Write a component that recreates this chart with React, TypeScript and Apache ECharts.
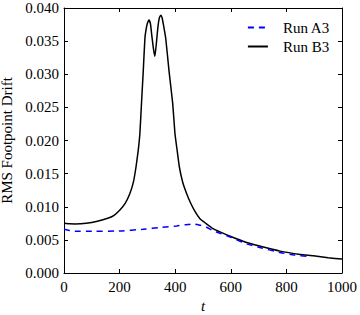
import React, { useEffect, useRef } from "react";
import * as echarts from "echarts";

const tB3 = [0, 20, 40, 80, 120, 160, 180, 201, 220, 237, 250, 259, 267, 273, 279, 285, 291, 295, 300, 306, 311, 316, 322, 327, 333, 338, 343, 348, 353, 358, 366, 378, 391, 399, 407, 415, 427, 441, 455, 471, 489, 510, 536, 561, 600, 657, 700, 777, 850, 897, 950, 1000];
const vB3 = [0.0075, 0.00742, 0.0074, 0.0075, 0.0078, 0.0083, 0.0087, 0.0095, 0.0105, 0.012, 0.0138, 0.016, 0.0185, 0.0211, 0.0258, 0.0304, 0.0354, 0.0367, 0.0377, 0.0382, 0.0376, 0.0358, 0.0338, 0.0327, 0.035, 0.0372, 0.0385, 0.0389, 0.0385, 0.0374, 0.0354, 0.0304, 0.0256, 0.0211, 0.0185, 0.016, 0.0137, 0.012, 0.0106, 0.0093, 0.0082, 0.0075, 0.0067, 0.0062, 0.0055, 0.0046, 0.0041, 0.0033, 0.0028, 0.0026, 0.0023, 0.0021];

const tA3 = [0, 20, 40, 100, 200, 284, 350, 405, 440, 465, 490, 513, 536, 561, 600, 657, 700, 777, 830, 880];
const vA3 = [0.0066, 0.0064, 0.0063, 0.0063, 0.00635, 0.0066, 0.0069, 0.0071, 0.0073, 0.0074, 0.0072, 0.0069, 0.0064, 0.006, 0.0054, 0.0044, 0.0039, 0.0031, 0.0027, 0.0025];

const seriesNames = ["Run A3", "Run B3"];
const FONT = "'Liberation Serif', serif";

export default function App() {
  const ref = useRef<HTMLDivElement>(null);
  useEffect(() => {
    if (!ref.current) return;
    const chart = echarts.init(ref.current, null, { renderer: "svg" });
    const axisCommon = {
      type: "value" as const,
      axisLine: { show: true, onZero: false, lineStyle: { color: "#000", width: 1 } },
      axisTick: { show: true, inside: true, length: 4, lineStyle: { color: "#000" } },
      splitLine: { show: false },
    };
    chart.setOption({
      animation: false,
      backgroundColor: "#fff",
      grid: { left: 64, right: 18, top: 8, bottom: 42, outerBoundsMode: "none", containLabel: false },
      legend: {
        orient: "vertical",
        right: 25,
        top: 15,
        itemWidth: 20,
        itemHeight: 14,
        itemGap: 4,
        data: seriesNames,
        itemStyle: { opacity: 0 },
        textStyle: { fontFamily: FONT, fontSize: 15, color: "#000", padding: [0, 0, 0, 10] },
      },
      xAxis: [
        {
          ...axisCommon,
          min: 0,
          max: 1000,
          interval: 200,
          position: "bottom",
          name: "t",
          nameLocation: "middle",
          nameGap: 22,
          nameTextStyle: { fontFamily: FONT, fontSize: 15, fontStyle: "italic", color: "#000" },
          axisLabel: { fontFamily: FONT, fontSize: 15, color: "#000", margin: 6, formatter: (v: number) => String(v) },
        },
        {
          ...axisCommon,
          min: 0,
          max: 1000,
          interval: 200,
          position: "top",
          axisLabel: { show: false },
        },
      ],
      yAxis: [
        {
          ...axisCommon,
          min: 0,
          max: 0.04,
          interval: 0.005,
          position: "left",
          name: "RMS Footpoint Drift",
          nameLocation: "middle",
          nameGap: 49,
          nameTextStyle: { fontFamily: FONT, fontSize: 15, color: "#000" },
          axisLabel: {
            fontFamily: FONT,
            fontSize: 15,
            color: "#000",
            margin: 5,
            formatter: (v: number) => v.toFixed(3),
          },
        },
        {
          ...axisCommon,
          min: 0,
          max: 0.04,
          interval: 0.005,
          position: "right",
          axisLabel: { show: false },
        },
      ],
      series: [
        {
          name: seriesNames[0],
          type: "line",
          data: tA3.map((t, i) => [t, vA3[i]]),
          showSymbol: false,
          symbol: "none",
          smooth: 0.3,
          lineStyle: { color: "#0000ff", width: 1.5, type: [6, 5] },
          itemStyle: { color: "#0000ff" },
          z: 3,
        },
        {
          name: seriesNames[1],
          type: "line",
          data: tB3.map((t, i) => [t, vB3[i]]),
          showSymbol: false,
          symbol: "none",
          smooth: 0.15,
          lineStyle: { color: "#000", width: 1.5 },
          itemStyle: { color: "#000" },
          z: 2,
        },
      ],
    });
    return () => chart.dispose();
  }, []);
  return <div ref={ref} style={{ width: 360, height: 315, position: "absolute", left: 0, top: 0 }} />;
}
